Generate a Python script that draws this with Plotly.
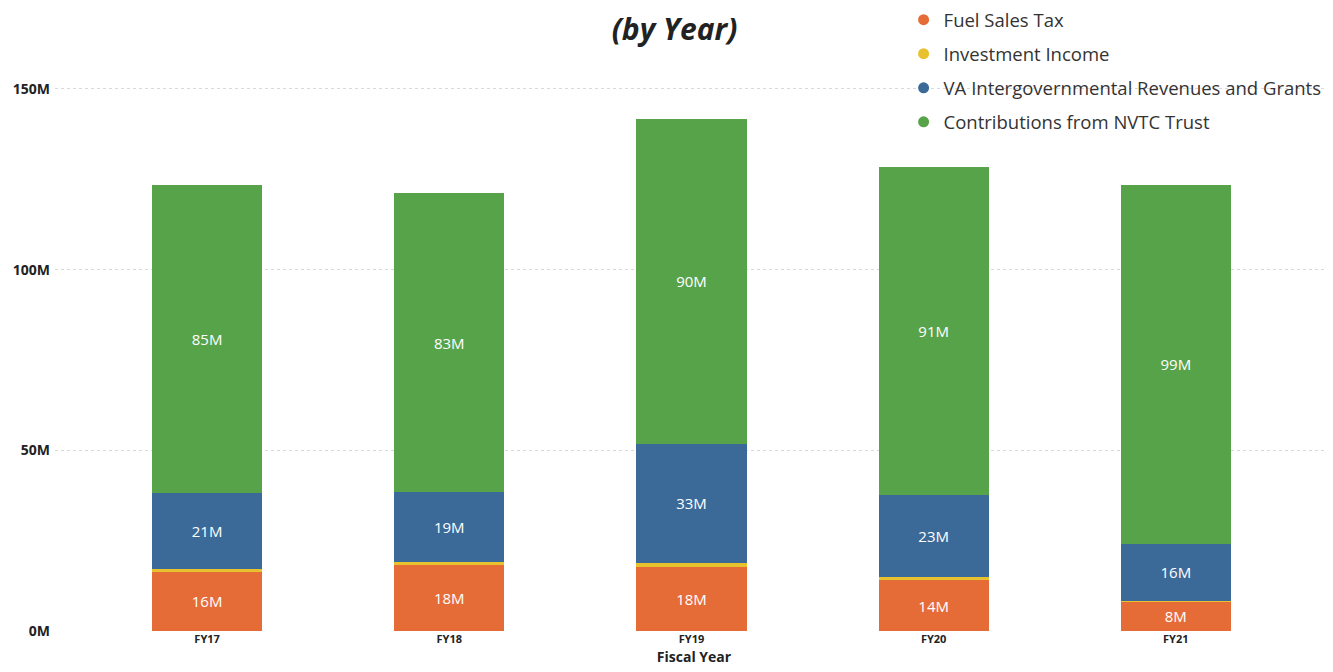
import plotly.graph_objects as go

years = ["FY17", "FY18", "FY19", "FY20", "FY21"]
fuel_sales_tax = [16.4, 18.3, 17.8, 14.1, 8.3]
investment_income = [0.8, 0.7, 1.0, 0.8, 0.1]
va_intergov = [21.0, 19.4, 33.0, 22.7, 15.7]
nvtc_trust = [85.3, 82.8, 89.9, 90.8, 99.3]

series = [
    ("Fuel Sales Tax", fuel_sales_tax, "#E66C37", True),
    ("Investment Income", investment_income, "#E8C22E", False),
    ("VA Intergovernmental Revenues and Grants", va_intergov, "#3B6A98", True),
    ("Contributions from NVTC Trust", nvtc_trust, "#57A34A", True),
]

y_ticks = [0, 50, 100, 150]
y_ticktext = ["0M", "50M", "100M", "150M"]

fig = go.Figure()
for name, vals, color, labeled in series:
    fig.add_trace(go.Bar(
        x=years, y=vals, name=name, marker=dict(color=color, line=dict(width=0)),
        texttemplate="%{y:.0f}M" if labeled else None,
        textposition="inside" if labeled else "none",
        insidetextanchor="middle", textangle=0, constraintext="none",
        textfont=dict(color="white", size=15, family="Open Sans"),
        showlegend=False, hoverinfo="skip",
    ))
for i, (name, vals, color, labeled) in enumerate(series):
    fig.add_trace(go.Scatter(
        x=[None], y=[None], mode="markers", name=name,
        marker=dict(color=color, size=11, symbol="circle"),
        legendgroup=f"g{i}", showlegend=True,
    ))

fig.update_layout(
    width=1333, height=672,
    barmode="stack", bargap=0.545,
    plot_bgcolor="white", paper_bgcolor="white",
    margin=dict(l=47, r=8, t=0, b=49, autoexpand=False),
    font=dict(family="Open Sans", color="#333333"),
    title=dict(text="<b><i>(by Year)</i></b>", x=0.5, xanchor="center",
               y=1 - 21 / 672, yanchor="middle", yref="container",
               font=dict(size=30, color="#222222", family="Open Sans")),
    legend=dict(xref="paper", yref="paper", x=0.664, y=1.011,
                xanchor="left", yanchor="top", traceorder="grouped",
                tracegroupgap=7, font=dict(size=18.5, color="#333333"),
                bgcolor="rgba(255,255,255,0)", itemwidth=30),
    xaxis=dict(range=[-0.628, 4.649], showgrid=False, showline=False, automargin=False,
               ticks="", tickfont=dict(size=11, color="#222222", family="Open Sans"),
               tickprefix="<b>", ticksuffix="</b>",
               title=dict(text="<b>Fiscal Year</b>", standoff=7,
                          font=dict(size=14, color="#222222"))),
    yaxis=dict(range=[0, 172.4], tickvals=y_ticks, ticktext=[f"<b>{t}</b>" for t in y_ticktext],
               showgrid=True, gridcolor="#d9d9d9", griddash="dot", gridwidth=1,
               zeroline=False, showline=False, ticks="", automargin=False,
               ticklabelstandoff=4,
               tickfont=dict(size=14, color="#222222", family="Open Sans")),
)

fig.write_html("out.html")
